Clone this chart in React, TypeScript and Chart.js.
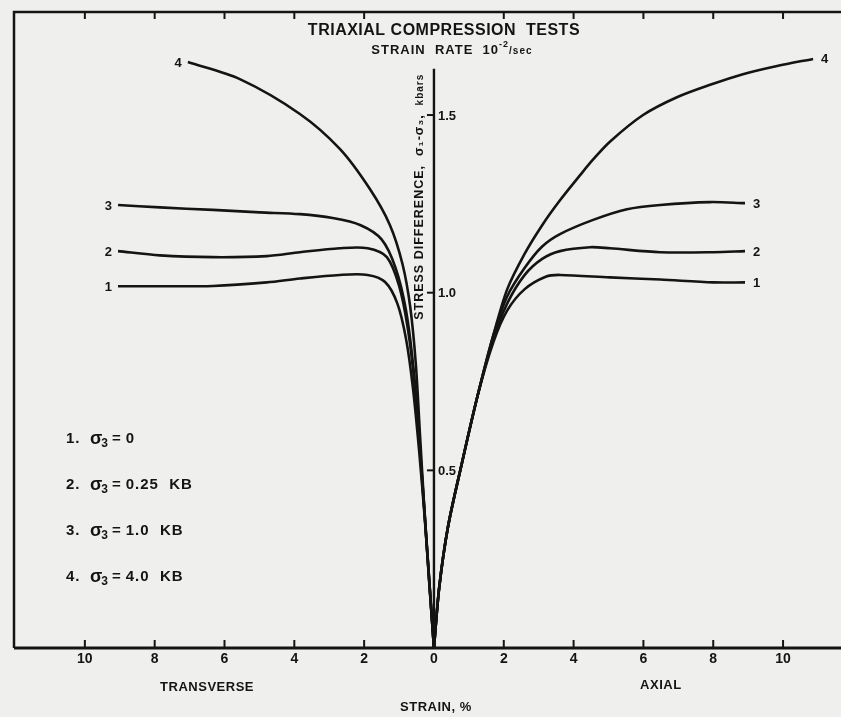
import React, { useEffect, useRef } from "react";
import { Chart, registerables } from "chart.js";

Chart.register(...registerables);

// ---------- data (strain %, stress difference kbars) ----------
const curve1LeftStrain = [-9.05, -7.85, -6.33, -4.79, -3.84, -2.7, -1.9, -1.4, -1.05, -0.8, -0.6, -0.42, -0.26, -0.12, 0];
const curve1LeftStress = [1.018, 1.018, 1.019, 1.029, 1.04, 1.05, 1.05, 1.03, 0.97, 0.87, 0.73, 0.55, 0.36, 0.17, 0];
const curve2LeftStrain = [-9.05, -7.85, -6.33, -4.79, -3.84, -2.7, -1.9, -1.35, -1.0, -0.75, -0.55, -0.4, -0.26, -0.12, 0];
const curve2LeftStress = [1.117, 1.105, 1.1, 1.103, 1.114, 1.125, 1.125, 1.1, 1.02, 0.9, 0.74, 0.56, 0.37, 0.17, 0];
const curve3LeftStrain = [-9.05, -7.85, -6.33, -4.99, -3.84, -2.9, -2.1, -1.5, -1.1, -0.8, -0.58, -0.42, -0.27, -0.13, 0];
const curve3LeftStress = [1.247, 1.24, 1.233, 1.226, 1.221, 1.21, 1.19, 1.15, 1.07, 0.95, 0.78, 0.58, 0.38, 0.18, 0];
const curve4LeftStrain = [-7.05, -5.56, -3.84, -2.69, -1.83, -1.26, -0.9, -0.68, -0.52, -0.4, -0.28, -0.14, 0];
const curve4LeftStress = [1.649, 1.601, 1.503, 1.404, 1.291, 1.19, 1.08, 0.96, 0.8, 0.6, 0.4, 0.19, 0];

const curve1RightStrain = [0, 0.15, 0.4, 0.8, 1.25, 1.7, 2.1, 2.6, 3.2, 3.61, 5.04, 6.48, 8.0, 8.91];
const curve1RightStress = [0, 0.17, 0.34, 0.52, 0.71, 0.86, 0.95, 1.01, 1.045, 1.05, 1.043, 1.037, 1.029, 1.029];
const curve2RightStrain = [0, 0.15, 0.4, 0.8, 1.25, 1.7, 2.1, 2.6, 3.1, 3.61, 4.47, 5.04, 6.48, 8.0, 8.91];
const curve2RightStress = [0, 0.17, 0.34, 0.52, 0.71, 0.87, 0.97, 1.05, 1.095, 1.117, 1.128, 1.125, 1.114, 1.114, 1.117];
const curve3RightStrain = [0, 0.15, 0.4, 0.8, 1.25, 1.7, 2.1, 2.6, 3.1, 3.61, 4.56, 5.53, 6.48, 7.91, 8.91];
const curve3RightStress = [0, 0.17, 0.34, 0.52, 0.71, 0.88, 0.99, 1.07, 1.13, 1.165, 1.205, 1.235, 1.247, 1.255, 1.252];
const curve4RightStrain = [0, 0.15, 0.4, 0.8, 1.25, 1.7, 2.1, 2.6, 3.1, 3.61, 4.18, 4.56, 5.04, 5.99, 6.96, 7.91, 8.85, 9.83, 10.86];
const curve4RightStress = [0, 0.17, 0.34, 0.52, 0.71, 0.88, 1.01, 1.11, 1.19, 1.26, 1.33, 1.375, 1.425, 1.5, 1.55, 1.585, 1.615, 1.638, 1.658];

const curveNames = ["1", "2", "3", "4"];
const xTickValues = [-10, -8, -6, -4, -2, 0, 2, 4, 6, 8, 10];
const topTickValues = [-10, -8, -6, -4, -2, 2, 4, 6, 8, 10];
const yTickValues = [0.5, 1.0, 1.5];
const yTickLabels = ["0.5", "1.0", "1.5"];
const legendNumbers = ["1.", "2.", "3.", "4."];
const legendValues = ["0", "0.25  KB", "1.0  KB", "4.0  KB"];

const titleText = "TRIAXIAL COMPRESSION  TESTS";
const xTitle = "STRAIN, %";
const leftSideLabel = "TRANSVERSE";
const rightSideLabel = "AXIAL";

const X_MIN = -12.03;
const X_MAX = 11.66;
const Y_MAX = 1.79;
const Y_AXIS_TOP = 1.63;

const INK = "#141414";
const BG = "#efefed";
const FONT = '"Liberation Sans", Arial, "DejaVu Sans", sans-serif';

const pts = (xs: number[], ys: number[]) => xs.map((x, i) => ({ x, y: ys[i] }));

const leftBranches = [
  pts(curve1LeftStrain, curve1LeftStress),
  pts(curve2LeftStrain, curve2LeftStress),
  pts(curve3LeftStrain, curve3LeftStress),
  pts(curve4LeftStrain, curve4LeftStress),
];
const rightBranches = [
  pts(curve1RightStrain, curve1RightStress),
  pts(curve2RightStrain, curve2RightStress),
  pts(curve3RightStrain, curve3RightStress),
  pts(curve4RightStrain, curve4RightStress),
];

const lineStyle = {
  showLine: true,
  borderColor: INK,
  borderWidth: 2.6,
  pointRadius: 0,
  pointHoverRadius: 0,
  tension: 0.3,
  fill: false,
};

const decorPlugin = {
  id: "decor",
  beforeDraw(chart: any) {
    const ctx = chart.ctx;
    ctx.save();
    ctx.fillStyle = BG;
    ctx.fillRect(0, 0, chart.width, chart.height);
    ctx.restore();
  },
  afterDraw(chart: any) {
    const { ctx, chartArea } = chart;
    const xs = chart.scales.x;
    const ys = chart.scales.y;
    const x0 = xs.getPixelForValue(0);
    const y0 = ys.getPixelForValue(0);
    ctx.save();
    ctx.strokeStyle = INK;
    ctx.fillStyle = INK;
    ctx.lineCap = "butt";

    // frame: left and top lines
    ctx.lineWidth = 2.5;
    ctx.beginPath();
    ctx.moveTo(chartArea.left, y0);
    ctx.lineTo(chartArea.left, chartArea.top);
    ctx.lineTo(chartArea.right, chartArea.top);
    ctx.stroke();

    // top ticks (pointing down)
    ctx.lineWidth = 2;
    topTickValues.forEach((v) => {
      const px = xs.getPixelForValue(v);
      ctx.beginPath();
      ctx.moveTo(px, chartArea.top);
      ctx.lineTo(px, chartArea.top + 7);
      ctx.stroke();
    });

    // x axis line
    ctx.lineWidth = 3;
    ctx.beginPath();
    ctx.moveTo(chartArea.left, y0);
    ctx.lineTo(chartArea.right, y0);
    ctx.stroke();

    // x ticks (pointing up)
    ctx.lineWidth = 2;
    xTickValues.forEach((v) => {
      if (v === 0) return;
      const px = xs.getPixelForValue(v);
      ctx.beginPath();
      ctx.moveTo(px, y0);
      ctx.lineTo(px, y0 - 8);
      ctx.stroke();
    });

    // y axis line at strain 0
    ctx.lineWidth = 2.4;
    ctx.beginPath();
    ctx.moveTo(x0, y0);
    ctx.lineTo(x0, ys.getPixelForValue(Y_AXIS_TOP));
    ctx.stroke();

    // y ticks + labels
    ctx.font = `bold 13px ${FONT}`;
    ctx.textAlign = "left";
    ctx.textBaseline = "middle";
    yTickValues.forEach((v, i) => {
      const py = ys.getPixelForValue(v);
      ctx.lineWidth = 2;
      ctx.beginPath();
      ctx.moveTo(x0 - 7, py);
      ctx.lineTo(x0, py);
      ctx.stroke();
      ctx.fillText(yTickLabels[i], x0 + 4, py + 1);
    });

    // y axis title (rotated)
    ctx.save();
    ctx.translate(x0 - 14, ys.getPixelForValue(1.27));
    ctx.rotate(-Math.PI / 2);
    ctx.textAlign = "left";
    ctx.textBaseline = "middle";
    (ctx as any).letterSpacing = "1px";
    const partA = "STRESS DIFFERENCE,  σ₁-σ₃,  ";
    const partB = "kbars";
    ctx.font = `bold 12.5px ${FONT}`;
    const wA = ctx.measureText(partA).width;
    ctx.font = `bold 10px ${FONT}`;
    const wB = ctx.measureText(partB).width;
    const start = -(wA + wB) / 2;
    ctx.font = `bold 12.5px ${FONT}`;
    ctx.fillText(partA, start, 0);
    ctx.font = `bold 10px ${FONT}`;
    ctx.fillText(partB, start + wA, 0);
    ctx.restore();

    // curve end labels
    ctx.font = `bold 13px ${FONT}`;
    ctx.textBaseline = "middle";
    curveNames.forEach((name, i) => {
      const lm = chart.getDatasetMeta(i).data;
      const rm = chart.getDatasetMeta(i + 4).data;
      const lp = lm[0];
      const rp = rm[rm.length - 1];
      ctx.textAlign = "right";
      ctx.fillText(name, lp.x - 6, lp.y + 1);
      ctx.textAlign = "left";
      ctx.fillText(name, rp.x + 8, rp.y + 1);
    });

    // titles
    ctx.textAlign = "center";
    ctx.textBaseline = "middle";
    (ctx as any).letterSpacing = "0.5px";
    ctx.font = `bold 16px ${FONT}`;
    ctx.fillText(titleText, x0 + 10, 31);

    // subtitle with superscript
    (ctx as any).letterSpacing = "1px";
    const s1 = "STRAIN  RATE  10";
    const s2 = "-2";
    const s3 = "/sec";
    ctx.font = `bold 13px ${FONT}`;
    const w1 = ctx.measureText(s1).width;
    ctx.font = `bold 9px ${FONT}`;
    const w2 = ctx.measureText(s2).width;
    ctx.font = `bold 10px ${FONT}`;
    const w3 = ctx.measureText(s3).width;
    let sx = x0 + 18 - (w1 + w2 + w3) / 2;
    const sy = 50;
    ctx.textAlign = "left";
    ctx.font = `bold 13px ${FONT}`;
    ctx.fillText(s1, sx, sy);
    sx += w1;
    ctx.font = `bold 9px ${FONT}`;
    ctx.fillText(s2, sx, sy - 5);
    sx += w2;
    ctx.font = `bold 10px ${FONT}`;
    ctx.fillText(s3, sx, sy + 1);

    // bottom labels
    (ctx as any).letterSpacing = "0.5px";
    ctx.textAlign = "center";
    ctx.font = `bold 13px ${FONT}`;
    ctx.fillText(leftSideLabel, xs.getPixelForValue(-6.5), 687);
    ctx.fillText(rightSideLabel, xs.getPixelForValue(6.5), 685);
    ctx.fillText(xTitle, x0 + 2, 707);

    // legend block
    (ctx as any).letterSpacing = "1px";
    ctx.textAlign = "left";
    const legendY = [439, 485, 531, 577];
    legendNumbers.forEach((num, i) => {
      const y = legendY[i];
      let lx = 66;
      ctx.font = `bold 15px ${FONT}`;
      ctx.fillText(num, lx, y);
      lx = 90;
      ctx.font = `bold 18px ${FONT}`;
      ctx.fillText("σ", lx, y);
      lx += ctx.measureText("σ").width;
      ctx.font = `bold 12px ${FONT}`;
      ctx.fillText("3", lx - 2, y + 5);
      lx += ctx.measureText("3").width + 1;
      ctx.font = `bold 15px ${FONT}`;
      ctx.fillText("=", lx, y);
      lx += ctx.measureText("=").width + 4;
      ctx.fillText(legendValues[i], lx, y);
    });
    (ctx as any).letterSpacing = "0px";
    ctx.restore();
  },
};

export default function App() {
  const ref = useRef<HTMLCanvasElement | null>(null);

  useEffect(() => {
    document.body.style.margin = "0";
    document.body.style.background = BG;
    const canvas = ref.current;
    if (!canvas) return;
    const datasets: any[] = [];
    leftBranches.forEach((d, i) => datasets.push({ label: `${curveNames[i]}L`, data: d, ...lineStyle }));
    rightBranches.forEach((d, i) => datasets.push({ label: `${curveNames[i]}R`, data: d, ...lineStyle }));

    const chart = new Chart(canvas, {
      type: "scatter",
      data: { datasets },
      options: {
        responsive: false,
        animation: false,
        devicePixelRatio: 1,
        layout: { padding: { left: 14, top: 12, right: 0, bottom: 0 } },
        plugins: {
          legend: { display: false },
          tooltip: { enabled: false },
          title: { display: false },
        },
        scales: {
          x: {
            type: "linear",
            min: X_MIN,
            max: X_MAX,
            grid: { display: false, drawTicks: false },
            border: { display: false },
            afterBuildTicks: (s: any) => {
              s.ticks = xTickValues.map((v) => ({ value: v }));
            },
            afterFit: (s: any) => {
              s.height = 69;
            },
            ticks: {
              autoSkip: false,
              maxRotation: 0,
              padding: 3,
              color: INK,
              font: { family: FONT, size: 14, weight: "bold" },
              callback: (v: any) => String(Math.abs(Number(v))),
            },
          },
          y: {
            type: "linear",
            min: 0,
            max: Y_MAX,
            display: false,
          },
        },
      },
      plugins: [decorPlugin],
    } as any);

    return () => chart.destroy();
  }, []);

  return (
    <canvas
      ref={ref}
      width={841}
      height={717}
      style={{ display: "block", position: "fixed", left: 0, top: 0, width: 841, height: 717 }}
    />
  );
}
